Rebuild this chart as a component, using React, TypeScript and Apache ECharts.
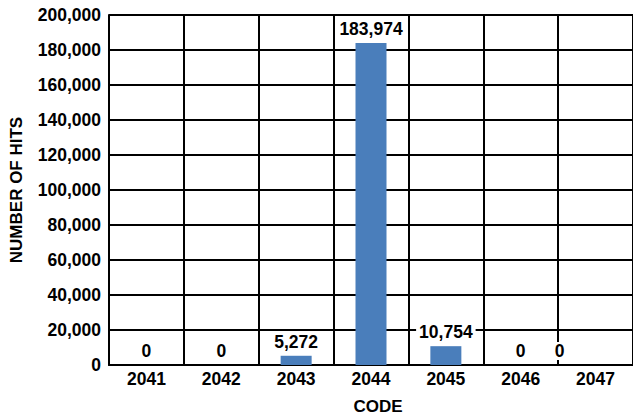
import React, { useEffect, useRef } from "react";
import * as echarts from "echarts";

const categories = ["2041", "2042", "2043", "2044", "2045", "2046", "2047"];
const hits = [0, 0, 5272, 183974, 10754, 0, 0];
const yTicks = { min: 0, max: 200000, interval: 20000 };

const FONT = "'Liberation Sans', Arial, sans-serif";

export default function App() {
  const ref = useRef<HTMLDivElement>(null);
  useEffect(() => {
    document.body.style.margin = "0";
    if (!ref.current) return;
    const chart = echarts.init(ref.current, undefined, { renderer: "svg" });
    const data = hits.map((v, i) =>
      i === 6 ? { value: v, label: { offset: [-36, 0] } } : { value: v }
    );
    chart.setOption({
      animation: false,
      backgroundColor: "#ffffff",
      grid: { left: 109, right: -1, top: 15, bottom: 51 },
      xAxis: {
        type: "category",
        data: categories,
        name: "CODE",
        nameLocation: "middle",
        nameGap: 33,
        nameTextStyle: { fontFamily: FONT, fontWeight: "bold", fontSize: 17, color: "#000", padding: [0, 0, 0, 14] },
        axisLine: { show: true, lineStyle: { color: "#000", width: 2 } },
        axisTick: { show: false },
        axisLabel: { fontFamily: FONT, fontWeight: "bold", fontSize: 17.5, color: "#000", margin: 5 },
        splitLine: { show: true, lineStyle: { color: "#000", width: 2 } },
      },
      yAxis: {
        type: "value",
        min: yTicks.min,
        max: yTicks.max,
        interval: yTicks.interval,
        name: "NUMBER OF HITS",
        nameLocation: "middle",
        nameGap: 84,
        nameRotate: 90,
        nameTextStyle: { fontFamily: FONT, fontWeight: "bold", fontSize: 17, color: "#000" },
        axisLine: { show: true, lineStyle: { color: "#000", width: 2 } },
        axisTick: { show: false },
        axisLabel: {
          fontFamily: FONT,
          fontWeight: "bold",
          fontSize: 17.5,
          color: "#000",
          margin: 8,
          formatter: (v: number) => v.toLocaleString("en-US"),
        },
        splitLine: { show: true, lineStyle: { color: "#000", width: 2 } },
      },
      series: [
        {
          type: "bar",
          data,
          barWidth: 31,
          itemStyle: { color: "#4A7EBB" },
          label: {
            show: true,
            position: "top",
            distance: 5,
            fontFamily: FONT,
            fontWeight: "bold",
            fontSize: 17.5,
            color: "#000",
            backgroundColor: "#fff",
            padding: [0, 3],
            formatter: (p: any) => Number(p.value).toLocaleString("en-US"),
          },
        },
      ],
    });
    return () => chart.dispose();
  }, []);
  return <div ref={ref} style={{ width: 633, height: 420 }} />;
}
